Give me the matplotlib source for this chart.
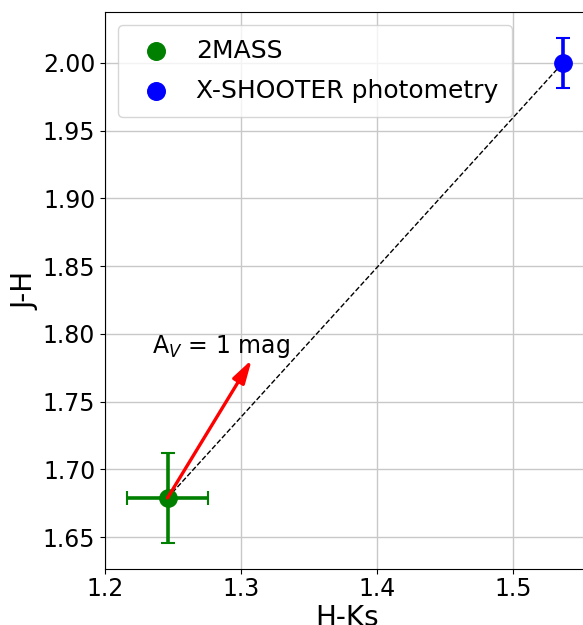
import matplotlib
matplotlib.use("Agg")
import matplotlib.pyplot as plt

# Data
labels = ["2MASS", "X-SHOOTER photometry"]
colors = ["green", "blue"]
hk = [1.246, 1.537]
jh = [1.679, 2.000]
hk_err = [0.030, 0.0]
jh_err = [0.033, 0.0185]
arrow_start = (1.246, 1.679)
arrow_end = (1.308, 1.781)
arrow_label = r"A$_V$ = 1 mag"
xticks = [1.2, 1.3, 1.4, 1.5]
yticks = [1.65, 1.70, 1.75, 1.80, 1.85, 1.90, 1.95, 2.00]

W, H = 583, 625
fig = plt.figure(figsize=(W / 100, H / 100), dpi=100)
left, right, bottom, top = 105, 590, 569, 12.3
ax = fig.add_axes([left / W, 1 - bottom / H, (right - left) / W, (bottom - top) / H])

ax.grid(True, color="#c8c8c8", linewidth=1)
ax.set_axisbelow(True)

ax.plot(hk, jh, "k--", linewidth=1, zorder=2)

for i in range(2):
    ax.errorbar(hk[i], jh[i], xerr=hk_err[i] if hk_err[i] > 0 else None,
                yerr=jh_err[i], fmt="o", color=colors[i], markersize=12.5,
                elinewidth=2.6, capsize=5, capthick=1.5, zorder=3)
    ax.scatter([], [], s=160, color=colors[i], label=labels[i])

ax.annotate("", xy=arrow_end, xytext=arrow_start,
            arrowprops=dict(arrowstyle="-|>,head_length=0.7,head_width=0.2",
                            color="red", lw=2.4,
                            mutation_scale=20, shrinkA=0, shrinkB=0), zorder=4)
ax.text(1.2343, 1.7857, arrow_label, fontsize=17, ha="left", va="baseline")

ax.set_xlim(1.2, 1.2 + (right - left) / 1359)
ax.set_ylim(1.6266, 2.0372)
ax.set_xticks(xticks)
ax.set_yticks(yticks)
ax.tick_params(labelsize=17)
ax.tick_params(axis="x", pad=2)
ax.set_xlabel("H-Ks", fontsize=20, labelpad=2.5)
ax.set_ylabel("J-H", fontsize=20, labelpad=2)

ax.legend(loc="upper left", fontsize=18, scatterpoints=1, borderpad=0.55,
          handletextpad=0.6, labelspacing=0.65)

fig.savefig("out.png", dpi=100)
